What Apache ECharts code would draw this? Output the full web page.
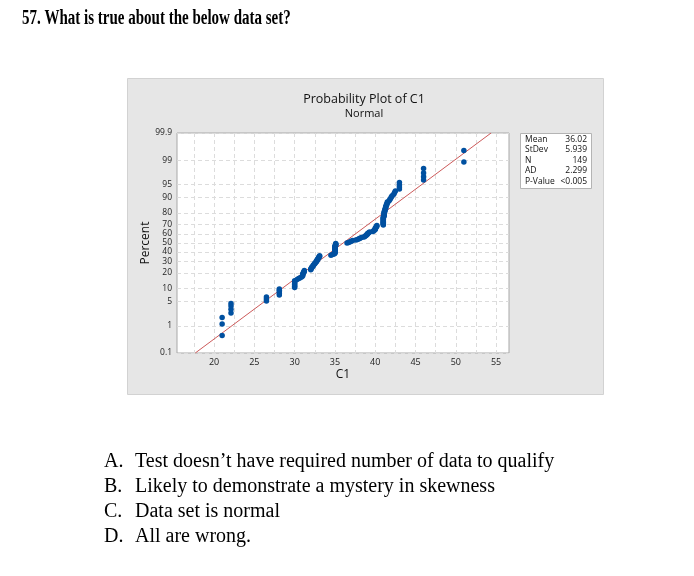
<!DOCTYPE html>
<html>
<head>
<meta charset="utf-8">
<script src="https://cdn.jsdelivr.net/npm/echarts@6/dist/echarts.min.js"></script>
<style>
html,body{margin:0;padding:0;background:#fff;}
#c{width:694px;height:576px;}
</style>
</head>
<body>
<div id="c"></div>
<script>
// ---- data ----
const questionTitle = '57. What is true about the below data set?';
const optionLetters = ['A.', 'B.', 'C.', 'D.'];
const optionTexts = [
  'Test doesn\u2019t have required number of data to qualify',
  'Likely to demonstrate a mystery in skewness',
  'Data set is normal',
  'All are wrong.'
];
const chartTitle = 'Probability Plot of C1';
const chartSubtitle = 'Normal';
const xName = 'C1';
const yName = 'Percent';
const xTickLabels = [20, 25, 30, 35, 40, 45, 50, 55];
const xGridValues = [17.5, 20, 22.5, 25, 27.5, 30, 32.5, 35, 37.5, 40, 42.5, 45, 47.5, 50, 52.5, 55];
const yTickPercents = [0.1, 1, 5, 10, 20, 30, 40, 50, 60, 70, 80, 90, 95, 99, 99.9];
const statLabels = ['Mean', 'StDev', 'N', 'AD', 'P-Value'];
const statValues = ['36.02', '5.939', '149', '2.299', '<0.005'];
const fitMean = 36.02;
const fitStDev = 5.939;
// sorted sample values of C1 (149 observations)
const c1Values = [
  21.0, 21.0, 21.0,
  22.1, 22.1, 22.1, 22.1,
  26.5, 26.5, 26.5,
  28.1, 28.1, 28.1, 28.1, 28.1,
  30.0, 30.0, 30.0, 30.0, 30.0, 30.0, 30.0,
  30.3, 30.5, 30.7,
  30.9, 31.0, 31.0, 31.0, 31.1, 31.1, 31.2, 31.2,
  32.0, 32.0, 32.1, 32.1, 32.2, 32.3, 32.3, 32.4, 32.5, 32.5, 32.6,
  32.7, 32.7, 32.8, 32.8, 32.9, 32.9, 33.0, 33.0, 33.1, 33.1,
  34.5, 34.7, 34.9,
  35.0, 35.0, 35.0, 35.0, 35.0, 35.0, 35.0, 35.0, 35.0, 35.0, 35.0, 35.0, 35.0, 35.1, 35.1, 35.1, 35.1,
  36.5, 36.7, 36.9, 37.0, 37.2,
  37.6, 37.8, 38.0, 38.1, 38.3,
  38.6, 38.7, 38.8, 38.9, 39.0, 39.0, 39.1, 39.2, 39.3,
  39.7, 39.8, 39.9, 40.0, 40.0, 40.0, 40.1, 40.1, 40.2, 40.2,
  41.0, 41.0, 41.0, 41.0, 41.0, 41.0, 41.0, 41.0, 41.0, 41.0, 41.0, 41.0, 41.1, 41.1, 41.1, 41.1, 41.1,
  41.1, 41.2, 41.2, 41.2, 41.3, 41.3, 41.3, 41.4, 41.4, 41.5, 41.5,
  41.7, 41.8, 41.9, 42.0, 42.1,
  42.3, 42.4, 42.5,
  43.0, 43.0, 43.0, 43.0,
  46.0, 46.0, 46.0, 46.0,
  51.0, 51.0
];

// ---- normal probability scale helpers ----
function invNorm(p) {
  const a = [-3.969683028665376e+01, 2.209460984245205e+02, -2.759285104469687e+02, 1.383577518672690e+02, -3.066479806614716e+01, 2.506628277459239e+00];
  const b = [-5.447609879822406e+01, 1.615858368580409e+02, -1.556989798598866e+02, 6.680131188771972e+01, -1.328068155288572e+01];
  const c = [-7.784894002430293e-03, -3.223964580411365e-01, -2.400758277161838e+00, -2.549732539343734e+00, 4.374664141464968e+00, 2.938163982698783e+00];
  const d = [7.784695709041462e-03, 3.224671290700398e-01, 2.445134137142996e+00, 3.754408661907416e+00];
  const pl = 0.02425, ph = 1 - pl;
  let q, r;
  if (p < pl) {
    q = Math.sqrt(-2 * Math.log(p));
    return (((((c[0]*q+c[1])*q+c[2])*q+c[3])*q+c[4])*q+c[5]) / ((((d[0]*q+d[1])*q+d[2])*q+d[3])*q+1);
  }
  if (p <= ph) {
    q = p - 0.5; r = q * q;
    return (((((a[0]*r+a[1])*r+a[2])*r+a[3])*r+a[4])*r+a[5])*q / (((((b[0]*r+b[1])*r+b[2])*r+b[3])*r+b[4])*r+1);
  }
  q = Math.sqrt(-2 * Math.log(1 - p));
  return -(((((c[0]*q+c[1])*q+c[2])*q+c[3])*q+c[4])*q+c[5]) / ((((d[0]*q+d[1])*q+d[2])*q+d[3])*q+1);
}
const yTickZ = yTickPercents.map(p => invNorm(p / 100));
const yMin = yTickZ[0], yMax = yTickZ[yTickZ.length - 1];
const n = c1Values.length;
// median-rank plotting positions (Benard), as used by the probability plot
const points = c1Values.map((v, i) => [v, invNorm((i + 1 - 0.3) / (n + 0.4))]);
const fitLine = [[fitMean + yMin * fitStDev, yMin], [fitMean + yMax * fitStDev, yMax]];

function yLabel(v) {
  let best = 0, bd = Infinity;
  yTickZ.forEach((z, i) => { const dd = Math.abs(z - v); if (dd < bd) { bd = dd; best = i; } });
  return String(yTickPercents[best]);
}

const UI = 'Open Sans, Noto Sans, sans-serif';
const SERIF = 'Liberation Serif, Times New Roman, serif';

const graphics = [
  { type: 'rect', z: -10, shape: { x: 127.5, y: 78.5, width: 476, height: 316 },
    style: { fill: '#e6e6e6', stroke: '#d2d2d2', lineWidth: 1 } },
  { type: 'text', x: 364, y: 99, style: { text: chartTitle, font: '12.5px ' + UI, fill: '#111', align: 'center', verticalAlign: 'middle' } },
  { type: 'text', x: 364, y: 114, style: { text: chartSubtitle, font: '11px ' + UI, fill: '#111', align: 'center', verticalAlign: 'middle' } },
  { type: 'rect', shape: { x: 520.5, y: 133.5, width: 71, height: 55 },
    style: { fill: '#fff', stroke: '#b4b4b4', lineWidth: 1 } },
  { type: 'text', x: 22, y: 18.5, scaleX: 0.75, style: { text: questionTitle, font: 'bold 20px ' + SERIF, fill: '#000', verticalAlign: 'middle' } }
];
statLabels.forEach((s, i) => {
  graphics.push({ type: 'text', x: 525, y: 139.5 + i * 10.5, style: { text: s, font: '8.5px ' + UI, fill: '#111', verticalAlign: 'middle' } });
  graphics.push({ type: 'text', x: 587, y: 139.5 + i * 10.5, style: { text: statValues[i], font: '8.5px ' + UI, fill: '#111', align: 'right', verticalAlign: 'middle' } });
});
optionLetters.forEach((l, i) => {
  const ym = 462 + i * 25;
  graphics.push({ type: 'text', x: 104, y: ym, style: { text: l, font: '20px ' + SERIF, fill: '#000', verticalAlign: 'middle' } });
  graphics.push({ type: 'text', x: 135, y: ym, style: { text: optionTexts[i], font: '20px ' + SERIF, fill: '#000', verticalAlign: 'middle' } });
});

const chart = echarts.init(document.getElementById('c'), null, { renderer: 'canvas' });
chart.setOption({
  animation: false,
  backgroundColor: '#fff',
  grid: { left: 177, top: 133, width: 332, height: 220, show: true, backgroundColor: '#fff', borderColor: '#a8a8a8', borderWidth: 1 },
  xAxis: {
    type: 'value', min: 15.4, max: 56.6,
    name: xName, nameLocation: 'middle', nameGap: 16,
    nameTextStyle: { fontFamily: UI, fontSize: 12, color: '#111' },
    axisLine: { show: false },
    axisTick: { show: false, customValues: xGridValues },
    axisLabel: { customValues: xTickLabels, fontFamily: UI, fontSize: 9, color: '#222', margin: 5 },
    splitLine: { show: true, lineStyle: { color: '#dcdcdc', type: [4, 3], width: 1 } }
  },
  yAxis: {
    type: 'value', min: yMin, max: yMax,
    name: yName, nameLocation: 'middle', nameGap: 24, nameRotate: 90,
    nameTextStyle: { fontFamily: UI, fontSize: 12, color: '#111' },
    axisLine: { show: false },
    axisTick: { show: false, customValues: yTickZ },
    axisLabel: { customValues: yTickZ, formatter: yLabel, fontFamily: UI, fontSize: 8.5, color: '#222', margin: 5 },
    splitLine: { show: true, lineStyle: { color: '#dcdcdc', type: [4, 3], width: 1 } }
  },
  series: [
    { type: 'line', data: fitLine, showSymbol: false, symbol: 'none', silent: true,
      lineStyle: { color: '#cc5a5a', width: 1 }, z: 2 },
    { type: 'scatter', data: points, symbol: 'circle', symbolSize: 5.5,
      itemStyle: { color: '#0050a0', opacity: 1 }, z: 3 }
  ],
  graphic: graphics
});
</script>
</body>
</html>
